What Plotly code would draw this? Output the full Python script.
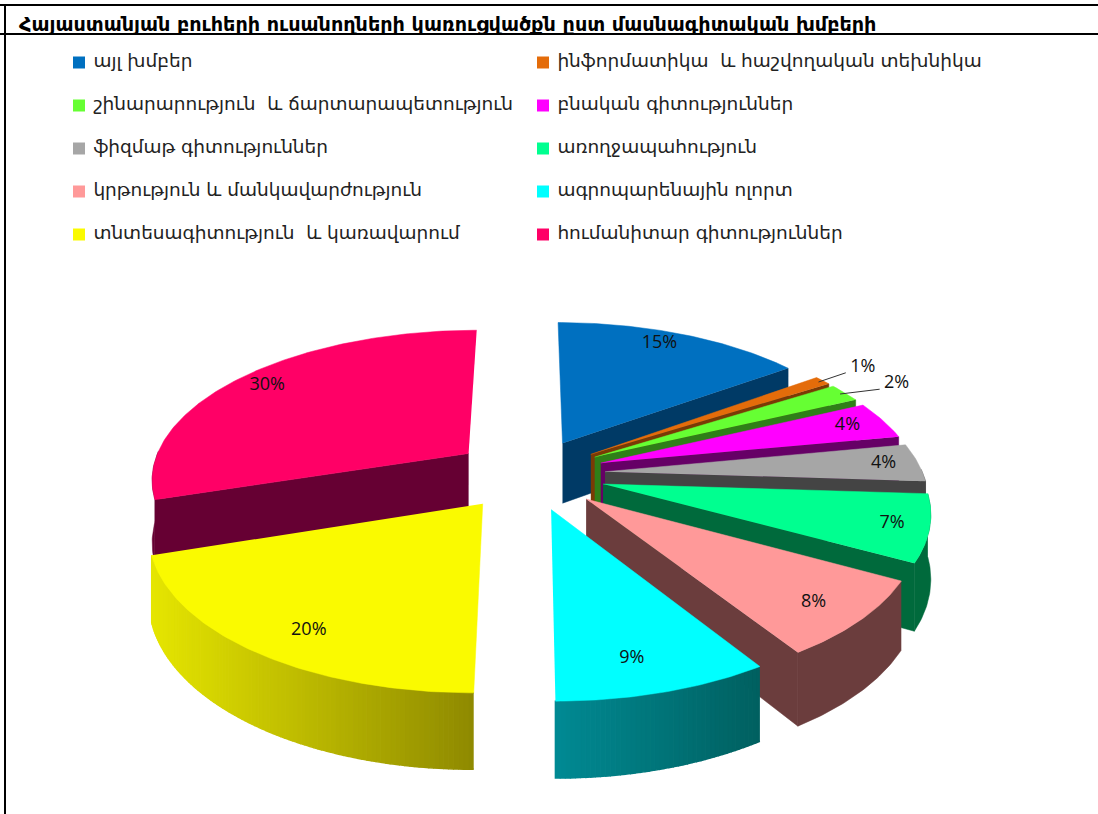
import numpy as np
import plotly.graph_objects as go

TITLE = "Հայաստանյան բուհերի ուսանողների կառուցվածքն ըստ մասնագիտական խմբերի"
categories = ["այլ խմբեր", "ինֆորմատիկա  և հաշվողական տեխնիկա",
              "շինարարություն  և ճարտարապետություն", "բնական գիտություններ",
              "ֆիզմաթ գիտություններ", "առողջապահություն",
              "կրթություն և մանկավարժություն", "ագրոպարենային ոլորտ",
              "տնտեսագիտություն  և կառավարում", "հումանիտար գիտություններ"]
values = [15, 1, 2, 4, 4, 7, 8, 9, 20, 30]
top_colors = ["#0070C0", "#E46C0A", "#66FF33", "#FF00FF", "#A6A6A6",
              "#00FF90", "#FF9999", "#00FFFF", "#FAFA00", "#FF0066"]
wall_colors = ["#003A66", "#7A3A05", "#2F7F18", "#660066", "#444444",
               "#006A3C", "#6B3D3D", "#006666", "#7F7F00", "#660033"]
grad_left = ["#003A66", "#7A3A05", "#2F7F18", "#660066", "#444444",
             "#006A3C", "#6B3D3D", "#008A94", "#E6E600", "#660033"]
grad_right = ["#003A66", "#7A3A05", "#2F7F18", "#660066", "#444444",
              "#006A3C", "#6B3D3D", "#006060", "#8F8A00", "#660033"]
label_r = [.85, 1.20, 1.24, .87, .89, .89, .83, .85, .84, .86]
label_dx = [-6, -2, -3, 0, 0, 0, 4, -13, 14, -5]
label_dy = [-5, 0, 5, 0, 0, 0, 5, -2, 6, -1]
leader_slices = [1, 2]
draw_order = [0, 1, 2, 3, 4, 5, 6, 7, 9, 8]

CX, CY, A, B, K, E, H = 529, 474, 318, 148.7, .158, .24, 62


def project(X, Y, drop=0.0):
    s = 1 / (1 - K * Y)
    return CX + A * X * s, CY + B * Y * s + drop * H * s


def hexrgb(c):
    return np.array([int(c[i:i + 2], 16) for i in (1, 3, 5)], float)


def poly(fig, xs, ys, color, lw=.5):
    fig.add_trace(go.Scatter(x=list(xs), y=list(ys), mode="lines", fill="toself", fillcolor=color,
                             line=dict(color=color, width=lw), hoverinfo="skip", showlegend=False))


fig = go.Figure()
fracs = np.cumsum([0] + values) / sum(values) * 2 * np.pi
for i in draw_order:
    a0, a1 = fracs[i], fracs[i + 1]
    mid = (a0 + a1) / 2
    ox, oy = E * np.sin(mid), -E * np.cos(mid)
    th = np.linspace(a0, a1, max(6, int(values[i] * 5)))
    X, Y = ox + np.sin(th), oy - np.cos(th)
    # radial walls, only those that face the viewer
    for a_edge, facing in ((a0, -np.sin(a0) > 1e-6), (a1, np.sin(a1) > 1e-6)):
        if not facing:
            continue
        ex, ey = ox + np.sin(a_edge), oy - np.cos(a_edge)
        p = [project(ox, oy), project(ex, ey), project(ex, ey, 1), project(ox, oy, 1)]
        poly(fig, [q[0] for q in p], [q[1] for q in p], wall_colors[i])
    # outer wall, left to right on screen
    sx, sy = project(X, Y)
    bx, by = project(X, Y, 1)
    lo, hi = sx.min(), sx.max()
    c0, c1 = hexrgb(grad_left[i]), hexrgb(grad_right[i])
    front = -np.cos(th) >= -0.02
    if grad_left[i] == grad_right[i]:
        if front.sum() > 1:
            poly(fig, np.r_[sx[front], bx[front][::-1]], np.r_[sy[front], by[front][::-1]], wall_colors[i])
    else:
        for j in range(len(th) - 1):
            if -np.cos((th[j] + th[j + 1]) / 2) <= 0:
                continue
            t = ((sx[j] + sx[j + 1]) / 2 - lo) / max(hi - lo, 1)
            col = c0 + (c1 - c0) * t
            poly(fig, [sx[j], sx[j + 1], bx[j + 1], bx[j]], [sy[j], sy[j + 1], by[j + 1], by[j]],
                 "rgb(%d,%d,%d)" % tuple(col), lw=1.5)
    # top face
    poly(fig, np.r_[project(ox, oy)[0], sx], np.r_[project(ox, oy)[1], sy], top_colors[i])

# percentage labels
lx, ly = [], []
for i in range(len(values)):
    mid = (fracs[i] + fracs[i + 1]) / 2
    r = label_r[i] + E
    x, y = project(r * np.sin(mid), -r * np.cos(mid))
    lx.append(float(x) + label_dx[i])
    ly.append(float(y) + label_dy[i])
fig.add_trace(go.Scatter(x=lx, y=ly, mode="text", text=[f"{v}%" for v in values], hoverinfo="skip",
                         showlegend=False, textfont=dict(family="Open Sans", size=18, color="#111")))
# leader lines of the two labels outside the pie
for i in leader_slices:
    mid = (fracs[i] + fracs[i + 1]) / 2
    x0, y0 = project((.98 + E) * np.sin(mid), -(.98 + E) * np.cos(mid))
    fig.add_trace(go.Scatter(x=[x0, lx[i] - 17], y=[y0, ly[i] + 5.5], mode="lines", hoverinfo="skip",
                             showlegend=False, line=dict(color="#333333", width=1)))

# legend built from the categories
cols = [79, 543]
rows = [62.5 + 43 * i for i in range(5)]
fig.add_trace(go.Scatter(
    x=[cols[i % 2] for i in range(10)], y=[rows[i // 2] for i in range(10)],
    mode="markers+text", text=["\u00a0" + c for c in categories], textposition="middle right",
    marker=dict(symbol="square", size=12, color=top_colors), hoverinfo="skip", showlegend=False,
    textfont=dict(family="DejaVu Sans", size=18.5, color="#222")))

fig.update_layout(
    width=1098, height=814, margin=dict(l=0, r=0, t=0, b=0), autosize=False,
    paper_bgcolor="white", plot_bgcolor="white",
    xaxis=dict(range=[0, 1098], visible=False, fixedrange=True),
    yaxis=dict(range=[814, 0], visible=False, fixedrange=True),
    annotations=[dict(text="<b>" + TITLE + "</b>", x=17, y=24, xref="x", yref="y", xanchor="left",
                      yanchor="middle", showarrow=False, font=dict(family="DejaVu Sans", size=19.2, color="black"))],
    shapes=[dict(type="line", xref="x", yref="y", x0=0, x1=1098, y0=5, y1=5, line=dict(color="black", width=2)),
            dict(type="line", xref="x", yref="y", x0=0, x1=1098, y0=34, y1=34, line=dict(color="black", width=2)),
            dict(type="line", xref="x", yref="y", x0=5, x1=5, y0=5, y1=814, line=dict(color="black", width=2))],
)
fig.write_html("out.html", post_script="document.body.style.margin='0';", config={"displayModeBar": False})
